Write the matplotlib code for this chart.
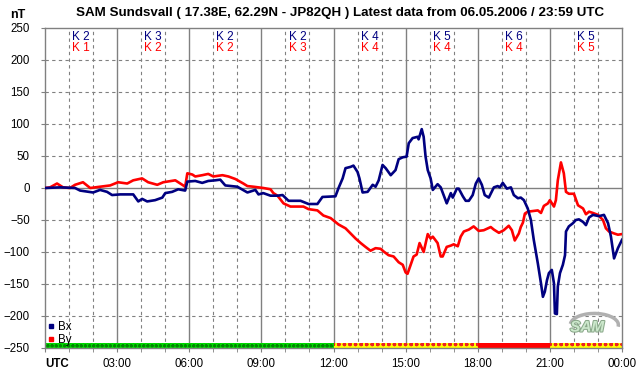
import numpy as np
import matplotlib
matplotlib.use("Agg")
import matplotlib.pyplot as plt
from matplotlib.lines import Line2D
from matplotlib.patches import Arc
import matplotlib.patheffects as pe

plt.rcParams['font.family'] = ['Liberation Sans', 'DejaVu Sans']
plt.rcParams['hatch.linewidth'] = 1.0

# data (hours UTC, nT)
bx_t = [0.00, 0.63, 1.25, 1.46, 2.00, 2.29, 2.58, 2.79, 3.13, 3.67, 3.88, 4.04, 4.25, 4.58, 4.88,
        5.00, 5.29, 5.54, 5.83, 5.92, 6.25, 6.54, 6.79, 7.08, 7.29, 7.50, 8.00, 8.42, 8.75, 8.88,
        9.08, 9.38, 9.67, 9.88, 10.13, 10.63, 10.96, 11.33, 11.54, 12.08, 12.21, 12.38, 12.50,
        12.71, 12.83, 13.00, 13.08, 13.21, 13.42, 13.63, 13.75, 13.88, 14.04, 14.17, 14.38, 14.58,
        14.71, 14.88, 15.04, 15.13, 15.29, 15.50, 15.54, 15.67, 15.75, 15.83, 15.92, 16.04, 16.13,
        16.33, 16.46, 16.58, 16.71, 16.88, 16.96, 17.13, 17.21, 17.38, 17.50, 17.63, 17.79, 17.92,
        18.04, 18.17, 18.29, 18.46, 18.67, 18.83, 18.92, 19.04, 19.21, 19.38, 19.50, 19.67, 19.79,
        19.92, 20.08, 20.21, 20.33, 20.50, 20.63, 20.71, 20.79, 20.88, 20.96, 21.08, 21.17, 21.21,
        21.29, 21.33, 21.42, 21.54, 21.63, 21.67, 21.79, 21.96, 22.08, 22.21, 22.38, 22.50, 22.63,
        22.79, 23.04, 23.25, 23.42, 23.54, 23.67, 23.83, 24.00]
bx = [0, 1, 0, -4, -7, -3, -6, -11, -10, -10, -21, -17, -21, -19, -15,
      -8, -6, -2, -4, 10, 11, 8, 11, 12, 13, 4, 2, -7, -3, -10,
      -8, -12, -12, -11, -20, -20, -25, -25, -14, -13, 0, 15, 31,
      33, 35, 25, 15, -7, -6, 5, 2, 12, 36, 31, 20, 28,
      45, 48, 49, 70, 78, 80, 76, 92, 80, 49, 28, 15, -3,
      6, 1, -11, -24, -8, -15, -1, -1, -13, -20, -20, -11, 7,
      15, 5, -11, -15, 1, 3, 1, 8, -1, 1, -11, -16, -15,
      -19, -32, -50, -81, -118, -149, -170, -162, -144, -133, -128, -149, -196,
      -197, -154, -133, -120, -105, -68, -60, -55, -50, -49, -53, -58, -46,
      -42, -44, -42, -55, -76, -110, -94, -81]

by_t = [0.00, 0.21, 0.50, 0.75, 1.04, 1.25, 1.58, 1.88, 2.29, 2.71, 3.04, 3.42, 3.67, 4.04, 4.29,
        4.67, 4.92, 5.42, 5.71, 5.83, 5.92, 6.13, 6.25, 6.54, 6.79, 7.00, 7.38, 7.63, 7.92, 8.25,
        8.42, 8.67, 9.08, 9.38, 9.50, 9.67, 9.92, 10.21, 10.75, 10.96, 11.33, 11.58, 11.88, 12.21,
        12.50, 12.71, 12.92, 13.13, 13.33, 13.54, 13.75, 13.96, 14.08, 14.29, 14.50, 14.71, 14.88,
        15.00, 15.08, 15.21, 15.33, 15.46, 15.58, 15.75, 15.92, 16.04, 16.13, 16.33, 16.46, 16.54,
        16.71, 16.88, 17.00, 17.17, 17.29, 17.42, 17.63, 17.83, 18.04, 18.25, 18.54, 18.67, 18.88,
        19.08, 19.29, 19.42, 19.54, 19.71, 19.79, 19.88, 19.96, 20.08, 20.29, 20.50, 20.63, 20.75,
        20.92, 21.00, 21.17, 21.25, 21.33, 21.46, 21.58, 21.67, 21.79, 22.00, 22.17, 22.38, 22.50,
        22.63, 22.79, 23.00, 23.21, 23.33, 23.46, 23.67, 23.83, 24.00]
by = [0, 1, 7, 1, 0, 5, 9, 0, 2, 4, 9, 7, 12, 15, 9,
      5, 9, 12, 5, 2, 23, 21, 18, 20, 22, 18, 20, 18, 14, 7,
      3, 2, 0, -2, -8, -12, -24, -29, -29, -33, -35, -43, -47, -57,
      -63, -71, -79, -86, -92, -98, -94, -95, -99, -105, -107, -116, -120,
      -132, -134, -120, -107, -104, -86, -100, -72, -79, -76, -86, -107, -107,
      -92, -90, -88, -91, -76, -68, -65, -60, -67, -66, -61, -65, -70,
      -66, -59, -66, -82, -71, -61, -54, -40, -37, -36, -35, -39, -28,
      -24, -19, -29, -19, 12, 40, 23, -6, -9, -9, -27, -32, -41,
      -37, -39, -42, -50, -63, -68, -71, -73, -72]

k_bx = [2, 3, 2, 2, 4, 5, 6, 5]
k_by = [1, 2, 2, 3, 4, 4, 4, 5]

act_start = [0, 12, 18, 21]
act_end = [12, 18, 21, 24]
act_face = ['#00dd00', '#ffff00', '#ff0000', '#ffff00']
act_hatch_col = ['#008800', '#ee2222', '#ff0000', '#ee2222']
act_hatch = ['oooo', 'ooo', '', 'ooo']

xtick_pos = [0, 3, 6, 9, 12, 15, 18, 21, 24]
xtick_lab = ['UTC', '03:00', '06:00', '09:00', '12:00', '15:00', '18:00', '21:00', '00:00']

fig = plt.figure(figsize=(6.42, 3.76), dpi=100)
ax = fig.add_axes([45/642, 1-348/376, 577/642, 320/376])
ax.set_xlim(0, 24)
ax.set_ylim(-250, 250)

grid = '#808080'
dash = (0, (3, 3))
for h in range(1, 24):
    if h % 3 == 0:
        ax.axvline(h, color=grid, lw=1, zorder=1)
    else:
        ax.axvline(h, color=grid, lw=0.8, ls=dash, zorder=1)
for v in range(-200, 250, 50):
    if v == 0:
        ax.axhline(v, color=grid, lw=1, zorder=1)
    else:
        ax.axhline(v, color=grid, lw=0.8, ls=dash, zorder=1)

for s, e, fc, hc, ht in zip(act_start, act_end, act_face, act_hatch_col, act_hatch):
    ax.fill_between([s, e], -250, -242, facecolor=fc, edgecolor=hc, hatch=ht, lw=0, zorder=2)

ax.plot(by_t, by, color='#ff0000', lw=1.9, zorder=4)
ax.plot(bx_t, bx, color='#000080', lw=1.9, zorder=5)

for i, (kb, kr) in enumerate(zip(k_bx, k_by)):
    xc = i * 3 + 1.5
    ax.text(xc, 236, 'K %d' % kb, color='#000080', fontsize=8.5, ha='center', va='center',
            bbox=dict(facecolor='white', edgecolor='none', pad=0.5), zorder=3)
    ax.text(xc, 219, 'K %d' % kr, color='#ff0000', fontsize=8.5, ha='center', va='center',
            bbox=dict(facecolor='white', edgecolor='none', pad=0.5), zorder=3)

for s in ax.spines.values():
    s.set_color(grid)
    s.set_linewidth(1)

ax.set_yticks(range(-250, 251, 50))
ax.set_xticks(xtick_pos)
ax.set_xticklabels(xtick_lab)
ax.set_xticks(range(25), minor=True)
ax.tick_params(axis='both', which='both', direction='out', length=3, color=grid, labelsize=8.3)
ax.tick_params(axis='y', pad=8)
ax.tick_params(axis='x', pad=4)
lbls = ax.get_xticklabels()
lbls[0].set_fontweight('bold')
lbls[0].set_horizontalalignment('left')

handles = [Line2D([], [], ls='none', marker='s', markersize=3, color='#000080'),
           Line2D([], [], ls='none', marker='s', markersize=3, color='#ff0000')]
ax.legend(handles, ['Bx', 'By'], loc='lower left', bbox_to_anchor=(0.0, -0.002), frameon=False,
          fontsize=8.3, handlelength=0.6, handletextpad=0.3, labelspacing=0.15,
          borderaxespad=0.1, borderpad=0.1)

# SAM logo
ax.add_patch(Arc((22.85, -214), 2.0, 36, angle=0, theta1=-70, theta2=120, color='#b0b0b0',
                 lw=2.5, zorder=6))
ax.text(22.55, -218, 'SAM', fontsize=11, style='italic', fontweight='bold', color='#cce8cc',
        ha='center', va='center', zorder=7,
        path_effects=[pe.withStroke(linewidth=1.5, foreground='#8aa88a')])

fig.text(340/642, 1-13/376, 'SAM Sundsvall ( 17.38E, 62.29N - JP82QH ) Latest data from 06.05.2006 / 23:59 UTC',
         ha='center', va='center', fontsize=9.6, fontweight='bold')
fig.text(18/642, 1-15/376, 'nT', ha='center', va='center', fontsize=9, fontweight='bold')

fig.savefig('out.png', dpi=100)
